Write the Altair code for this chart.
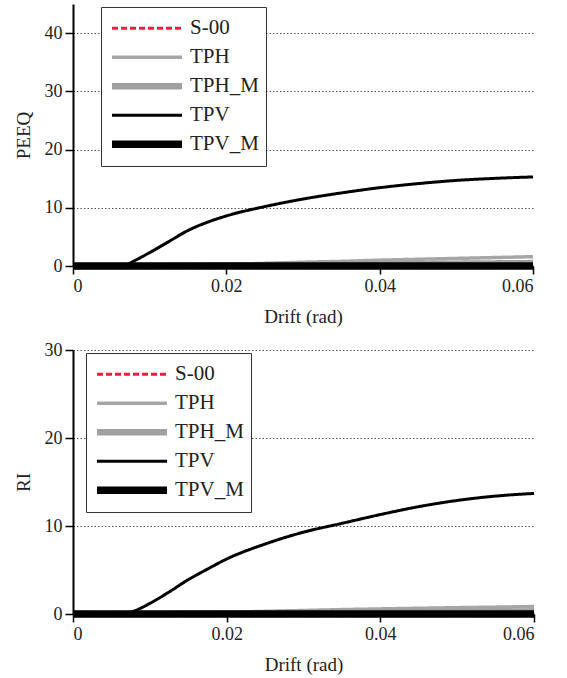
import altair as alt
import pandas as pd

drift = [0, 0.005, 0.0065, 0.008, 0.01, 0.0125, 0.015, 0.0175, 0.02, 0.025, 0.03,
         0.035, 0.04, 0.045, 0.05, 0.055, 0.06]

series_names = ["S-00", "TPH", "TPH_M", "TPV", "TPV_M"]

peeq_s00 = [0, 0, 0, 0, 0, 0, 0, 0, 0, 0, 0, 0, 0, 0, 0, 0, 0]
peeq_tph = [0, 0, 0, 0.02, 0.05, 0.1, 0.15, 0.22, 0.3, 0.45, 0.65, 0.8, 1.0, 1.15, 1.3, 1.45, 1.6]
peeq_tph_m = [0, 0, 0, 0, 0, 0.02, 0.05, 0.08, 0.1, 0.15, 0.2, 0.25, 0.3, 0.35, 0.4, 0.45, 0.5]
peeq_tpv = [0, 0, 0, 0.9, 2.3, 4.2, 6.1, 7.5, 8.6, 10.2, 11.5, 12.55, 13.45, 14.15, 14.7, 15.05, 15.3]
peeq_tpv_m = [0, 0, 0, 0, 0, 0, 0, 0, 0, 0, 0, 0, 0, 0, 0, 0, 0]

ri_s00 = [0, 0, 0, 0, 0, 0, 0, 0, 0, 0, 0, 0, 0, 0, 0, 0, 0]
ri_tph = [0, 0, 0, 0.01, 0.03, 0.06, 0.1, 0.15, 0.2, 0.3, 0.4, 0.5, 0.58, 0.65, 0.72, 0.78, 0.85]
ri_tph_m = [0, 0, 0, 0, 0, 0.01, 0.03, 0.045, 0.06, 0.09, 0.12, 0.15, 0.18, 0.21, 0.24, 0.27, 0.3]
ri_tpv = [0, 0, 0, 0.35, 1.2, 2.5, 3.9, 5.1, 6.25, 7.95, 9.3, 10.3, 11.3, 12.2, 12.9, 13.4, 13.7]
ri_tpv_m = [0, 0, 0, 0, 0, 0, 0, 0, 0, 0, 0, 0, 0, 0, 0, 0, 0]

x_ticks = [0, 0.02, 0.04, 0.06]
peeq_ticks = [0, 10, 20, 30, 40]
ri_ticks = [0, 10, 20, 30]

colors = ["#ff1a3c", "#a6a6a6", "#a0a0a0", "#000000", "#000000"]
widths = [3, 3.5, 6.5, 3, 7.5]
dashes = [[6, 3], [1, 0], [1, 0], [1, 0], [1, 0]]

FONT = "Liberation Serif"
FS = 18


def build(values_list):
    rows = []
    for order, (name, vals) in enumerate(zip(series_names, values_list)):
        for d, v in zip(drift, vals):
            rows.append({"drift": d, "value": v, "series": name, "order": order})
    return pd.DataFrame(rows)


def panel(df, ytitle, ydomain, yticks, lx, ly, width, height):
    leg = alt.Legend(orient="none", legendX=lx, legendY=ly, title=None,
                     symbolType="stroke", symbolSize=4900,
                     fillColor="white", strokeColor="#333333",
                     padding=7, labelFontSize=21, labelFont=FONT,
                     labelColor="#222222", rowPadding=0, clipHeight=28.5,
                     labelOffset=4)
    return alt.Chart(df).mark_line(interpolate="monotone", strokeCap="butt").encode(
        x=alt.X("drift:Q", title="Drift (rad)",
                scale=alt.Scale(domain=[0, 0.06], nice=False, zero=False),
                axis=alt.Axis(values=x_ticks, grid=False,
                              labelExpr="datum.value == 0 ? '0' : format(datum.value, '.2f')")),
        y=alt.Y("value:Q", title=ytitle,
                scale=alt.Scale(domain=ydomain, nice=False),
                axis=alt.Axis(values=yticks, grid=True, gridDash=[1.5, 2],
                              gridColor="#555555", gridWidth=1.2)),
        color=alt.Color("series:N", scale=alt.Scale(domain=series_names, range=colors),
                        legend=leg),
        strokeWidth=alt.StrokeWidth("series:O",
                                    scale=alt.Scale(type="ordinal", domain=series_names, range=widths),
                                    legend=leg),
        strokeDash=alt.StrokeDash("series:N", scale=alt.Scale(domain=series_names, range=dashes),
                                  legend=leg),
        order=alt.Order("order:Q"),
        detail="series:N",
    ).properties(width=width, height=height)


top = panel(build([peeq_s00, peeq_tph, peeq_tph_m, peeq_tpv, peeq_tpv_m]),
            "PEEQ", [0, 45], peeq_ticks, 28, 3, 460, 262)
bottom = panel(build([ri_s00, ri_tph, ri_tph_m, ri_tpv, ri_tpv_m]),
               "RI", [0, 30], ri_ticks, 13, 3, 461, 264)

chart = alt.vconcat(top, bottom, spacing=15).resolve_scale(
    color="independent", strokeWidth="independent", strokeDash="independent"
).properties(
    padding={"left": 14, "top": 4, "right": 10, "bottom": 5}
).configure_view(stroke=None).configure_axis(
    domainColor="#000000", domainWidth=2, tickColor="#000000", tickWidth=1.5, tickSize=8,
    labelFont=FONT, labelFontSize=FS, labelColor="#222222",
    titleFont=FONT, titleFontSize=19, titleColor="#222222", titleFontWeight="normal",
    labelPadding=3
).configure_axisY(titlePadding=11).configure_axisX(titlePadding=12)

chart.save("out.html", embed_options={"renderer": "svg", "actions": False})
